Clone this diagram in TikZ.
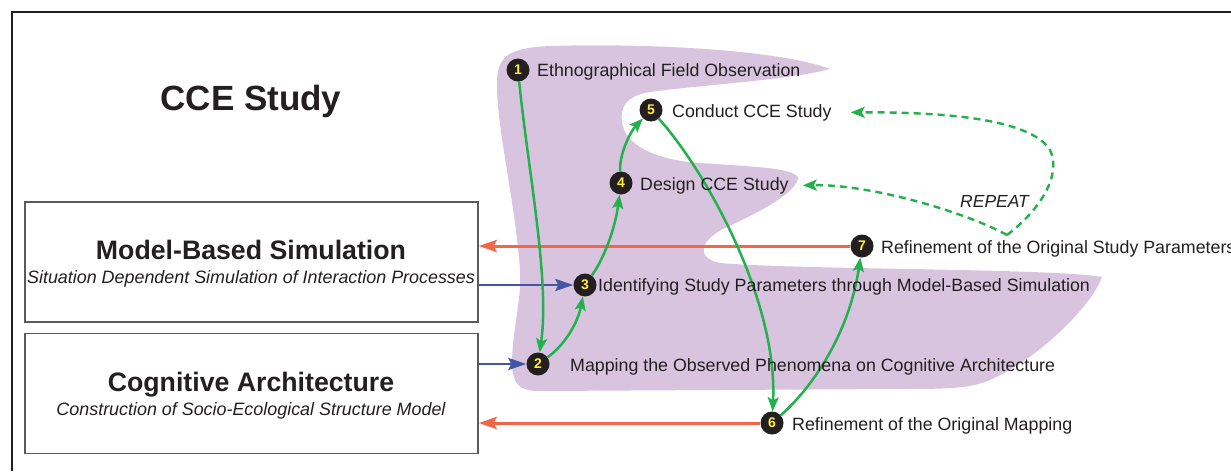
\documentclass[tikz,border=0pt]{standalone}
\usepackage{fontspec}
\setmainfont{Liberation Sans}
\usetikzlibrary{arrows.meta}
\definecolor{blob}{RGB}{216,196,223}
\definecolor{grn}{RGB}{34,177,76}
\definecolor{redar}{RGB}{242,103,74}
\definecolor{bluar}{RGB}{68,85,165}
\definecolor{numy}{RGB}{255,236,60}
\definecolor{txt}{RGB}{35,31,32}
\definecolor{boxline}{RGB}{90,90,90}
\pgfdeclarelayer{blobl}
\pgfdeclarelayer{arrl}
\pgfsetlayers{blobl,arrl,main}
\begin{document}
\begin{tikzpicture}[x=1pt,y=-1pt,
  num/.style={circle,fill=txt,minimum size=23pt,inner sep=0pt,text=numy,font=\fontsize{14}{14}\selectfont\bfseries},
  lbl/.style={anchor=base west,inner sep=0pt,text=txt,font=\fontsize{17.8}{20}\selectfont},
  bigtitle/.style={anchor=base,inner sep=0pt,text=txt,font=\fontsize{35}{40}\selectfont\bfseries},
  boxtitle/.style={anchor=base,inner sep=0pt,text=txt,font=\fontsize{26.7}{30}\selectfont\bfseries},
  boxsub/.style={anchor=base,inner sep=0pt,text=txt,font=\fontsize{17.9}{20}\selectfont\itshape},
  sysbox/.style={draw=boxline,line width=1.4pt,minimum width=453pt,minimum height=120pt,inner sep=0pt},
  grnarrow/.style={draw=grn,line width=2.5pt,-{Stealth[length=14pt,width=11pt,inset=3pt]}},
  dasharrow/.style={draw=grn,line width=2.4pt,dash pattern=on 7pt off 5pt,-{Stealth[length=14pt,width=11pt,inset=3pt]}},
  redarrow/.style={draw=redar,line width=3pt,-{Stealth[length=18pt,width=12pt,inset=3pt]}},
  bluarrow/.style={draw=bluar,line width=2.7pt,-{Stealth[length=18pt,width=12pt,inset=3pt]}}
]
\useasboundingbox (0,0) rectangle (1231,471);
% frame
\draw[txt,line width=1.3pt] (12,471) -- (12,12) -- (1231,12);
% blob
\begin{pgfonlayer}{blobl}
\fill[blob] (497,85) .. controls (497,58) and (505,48) .. (550,46)
  .. controls (650,43) and (780,50) .. (830,69)
  .. controls (790,80) and (700,85) .. (650,92)
  .. controls (625,96) and (620,108) .. (622,122)
  .. controls (625,145) and (655,160) .. (700,163)
  .. controls (760,167) and (790,168) .. (798,177)
  .. controls (798,192) and (760,212) .. (725,228)
  .. controls (700,240) and (695,258) .. (720,263)
  .. controls (800,270) and (1050,268) .. (1102,277)
  .. controls (1090,310) and (1030,365) .. (985,382)
  .. controls (965,389) and (940,389) .. (900,389)
  -- (540,391)
  .. controls (520,391) and (513,385) .. (512,365)
  .. controls (512,330) and (522,300) .. (520,270)
  .. controls (515,200) and (497,130) .. (497,85) -- cycle;
\end{pgfonlayer}
% title
\node[bigtitle] (cce) at (251,110) {CCE Study};
% boxes
\node[sysbox] (mbs) at (251.5,262) {};
\node[boxtitle] (mbst) at (251,259) {Model-Based Simulation};
\node[boxsub] (mbss) at (251,283) {Situation Dependent Simulation of Interaction Processes};
\node[sysbox] (ca) at (251.5,393.5) {};
\node[boxtitle] (cat) at (251,391) {Cognitive Architecture};
\node[boxsub] (cas) at (251,415) {Construction of Socio-Ecological Structure Model};
% numbered nodes
\node[num] (n1) at (518,70) {1};
\node[num] (n2) at (538,364) {2};
\node[num] (n3) at (585,285) {3};
\node[num] (n4) at (621,183) {4};
\node[num] (n5) at (651,110) {5};
\node[num] (n6) at (772,423) {6};
\node[num] (n7) at (862,246) {7};
% labels
\node[lbl] (l1) at (537,76.5) {Ethnographical Field Observation};
\node[lbl] (l5) at (672,117) {Conduct CCE Study};
\node[lbl] (l4) at (640,190) {Design CCE Study};
\node[lbl] (l7) at (881,253) {Refinement of the Original Study Parameters};
\node[lbl] (l3) at (598,291.5) {Identifying Study Parameters through Model-Based Simulation};
\node[lbl] (l2) at (570,371) {Mapping the Observed Phenomena on Cognitive Architecture};
\node[lbl] (l6) at (792,430) {Refinement of the Original Mapping};
\node[anchor=base west,inner sep=0pt,text=txt,font=\fontsize{17.5}{20}\selectfont\itshape] (rlbl) at (960,207) {REPEAT};
\begin{pgfonlayer}{arrl}
% red and blue arrows
\draw[redarrow] (n7) -- (mbs.east |- n7);
\draw[redarrow] (n6) -- (ca.east |- n6);
\draw[bluarrow] (mbs.east |- n3) -- (n3);
\draw[bluarrow] (ca.east |- n2) -- (n2);
% green arrows
\draw[grnarrow] (n1) .. controls (528,170) and (550,280) .. (n2);
\draw[grnarrow] (n2) .. controls (565,345) and (578,322) .. (n3);
\draw[grnarrow] (n3) .. controls (603,260) and (615,230) .. (n4);
\draw[grnarrow] (n4) .. controls (619,155) and (630,132) .. (n5);
\draw[grnarrow] (n5) .. controls (705,170) and (778,300) .. (n6);
\draw[grnarrow] (n6) .. controls (815,385) and (850,330) .. (n7);
% repeat loop
\coordinate (rep) at (1007,235);
\draw[dasharrow] (rep) .. controls (965,212) and (870,184) .. ([xshift=14pt]l4.east);
\draw[dasharrow] (rep) .. controls (1040,210) and (1062,175) .. (1050,150)
  .. controls (1030,118) and (940,112) .. ([xshift=19pt]l5.east);
\end{pgfonlayer}
\end{tikzpicture}
\end{document}
